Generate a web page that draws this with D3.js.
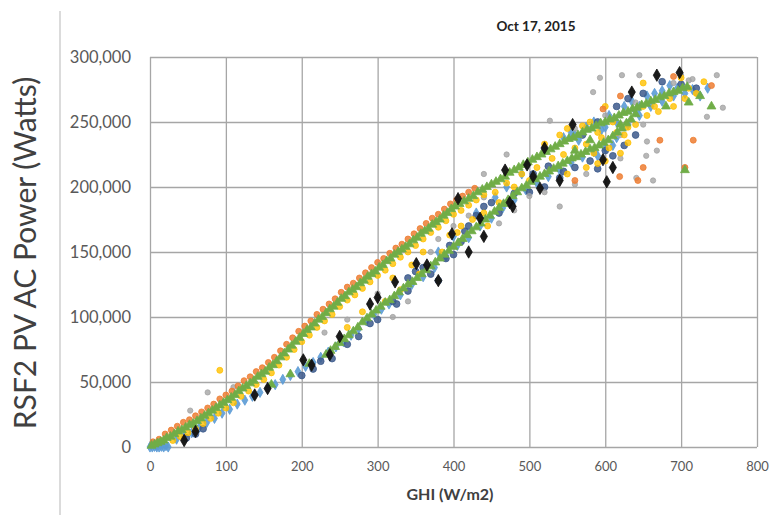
<!DOCTYPE html>
<html>
<head>
<meta charset="utf-8">
<script src="https://cdn.jsdelivr.net/npm/d3@7"></script>
<style>
  body { margin: 0; background: #fff; }
  svg { display: block; }
  text { font-family: Lato, "Open Sans", sans-serif; }
</style>
</head>
<body>
<div id="chart"></div>
<script>
// axis ticks
const xTicks = [0, 100, 200, 300, 400, 500, 600, 700, 800];
const yTicks = [0, 50000, 100000, 150000, 200000, 250000, 300000];
const title = "Oct 17, 2015";

// points are [GHI (W/m2), AC power (kW)]
const bluePts = [[0,0],[3,0],[6,0.5],[9,0],[12,0],[15,0.5],[18,0],[21,1],[24,0],[2,2],[8,1.5],
  [35,6],[45,8],[55,11],[59,12],[65,15],[75,19],[85,22],[95,26],[105,29],[115,33],[125,36],[135,39],
  [145,42],[155,45],[165,48],[175,52],[185,55],[195,58],[205,62],[215,65],[225,69],[235,73],[245,77],
  [255,81],[265,86],[275,91],[285,97],[295,102],[305,106],[315,110],[330,117],[345,125],[360,131],
  [375,138],[390,147],[405,155],[420,161],[435,170],[450,176],[465,184],[480,190],[495,198],[510,203],
  [525,208],[540,213],[555,219],[570,223],[585,227],[600,230],[615,238],[630,248],[645,255],[660,262],
  [675,266],[690,270],[705,272],[715,275],[725,270],[735,276],[520,229],[560,240],[600,246],[640,258],
  [545,238],[555,242],[565,236],[575,246],[585,250],[595,244],[605,255],[615,250],[625,262],[635,266],
  [645,262],[655,270],[665,272],[675,274],[685,278],[695,276],[590,224],[610,232],[470,200],[490,210],
  [430,180],[455,192],[380,150],[400,162]];

const navyPts = [[48,7],[60,10],[70,14],[200,55],[215,60],[225,66],[240,68],[260,79],[275,85],[290,95],
  [300,98],[320,112],[340,120],[350,135],[360,138],[370,133],[380,128],[390,145],[400,148],[410,158],
  [420,170],[430,178],[440,185],[460,180],[480,195],[500,196],[520,200],[540,207],[560,215],[590,214],
  [610,224],[625,232],[640,240],[570,240],[590,250],[615,262],[630,268],[650,272],[675,281],[700,279],
  [720,276],[600,228],[580,220],[545,212],[525,216],[505,210],[450,188],[415,166],[395,155],[340,130],
  [325,110]];

const grayPts = [[76,42],[53,28],[110,46],[230,88],[260,98],[300,118],[320,100],[340,112],
  [370,150],[380,160],[400,170],[420,178],[440,192],[460,172],[480,182],[500,193],[520,196],[540,185],
  [560,202],[575,210],[584,273],[593,284],[622,286],[645,286],[700,286],[715,283],[747,286],[755,261],
  [734,254],[720,272],[620,222],[655,235],[668,228],[654,224],[705,215],[663,205],[641,207],[527,251],
  [470,225],[440,210],[560,245],[600,255],[640,265],[690,280],[710,282],[620,240],[650,248]];

const goldPts = [[30,5],[40,8],[50,11],[60,14],[70,18],[80,22],[90,26],[100,30],[110,34],[120,39],
  [130,43],[140,48],[150,52],[160,57],[170,63],[180,69],[190,75],[200,81],[210,86],[220,92],[230,97],
  [240,102],[250,108],[260,113],[270,117],[280,122],[290,127],[300,132],[310,136],[320,141],[330,146],
  [340,150],[350,155],[360,160],[370,165],[380,169],[390,174],[400,179],[410,182],[420,186],[430,190],
  [440,194],[455,196],[470,203],[490,210],[510,215],[530,222],[545,225],[560,230],[575,233],[585,226],
  [595,238],[605,230],[615,242],[625,240],[640,248],[655,255],[670,258],[690,262],[705,268],[720,272],
  [730,281],[700,284],[650,280],[600,262],[580,250],[540,240],[520,233],[500,205],[480,200],[460,188],
  [440,180],[410,170],[395,163],[360,150],[345,140],[320,130],[260,92],[280,104],[310,112],[330,121],
  [355,133],[385,150],[405,165],[425,175],[445,170],[92,59],[550,245],[570,247],[590,242],[610,250],
  [630,246],[650,262],[665,262],[685,268],[710,276],[600,220],[590,218],[620,226],[630,234],[575,215],
  [550,210]];

const orangePts = [[4,4],[12,6],[20,10],[28,13],[36,16],[44,19],[52,21],[60,24],[68,27],[76,30],
  [84,33],[92,37],[100,40],[108,43],[116,47],[124,51],[132,54],[140,58],[148,61],[156,65],[164,69],
  [172,74],[180,79],[188,84],[196,89],[204,93],[212,97],[220,102],[228,106],[236,110],[244,114],
  [252,119],[260,123],[268,126],[276,130],[284,134],[292,138],[300,142],[308,145],[316,149],[324,153],
  [332,156],[340,160],[348,164],[356,168],[364,172],[372,176],[380,179],[388,183],[396,187],[404,190],
  [412,193],[420,196],[428,199],[672,236],[716,236],[705,215],[650,215],[643,205],[619,208],[560,205],
  [597,260],[690,285],[740,278],[620,270]];

const greenPts = [[2,1],[6,2],[10,3],[14,4],[18,5],[22,7],[27,8],[32,10],[37,12],[42,13],[47,15],
  [52,17],[57,18],[62,20],[67,22],[72,24],[77,26],[82,28],[87,30],[92,32],[97,34],[102,36],[107,38],
  [112,40],[117,43],[122,45],[127,47],[132,49],[137,51],[142,54],[147,56],[152,58],[157,61],[162,63],
  [167,66],[172,69],[177,72],[182,75],[187,78],[192,81],[197,84],[202,87],[207,90],[212,92],[217,95],
  [222,98],[227,100],[232,103],[237,106],[242,108],[247,111],[252,114],[257,116],[262,119],[267,121],
  [272,123],[277,126],[282,128],[287,131],[292,133],[297,135],[302,138],[307,140],[312,143],[317,145],
  [322,148],[327,150],[332,152],[337,154],[342,156],[347,159],[352,161],[357,164],[362,166],[367,168],
  [372,171],[377,173],[382,175],[387,178],[392,180],[397,183],[402,185],[408,187],[414,189],[420,191],
  [426,193],[432,196],[438,198],[444,200],[450,202],[456,204],[462,206],[468,208],[474,211],[480,213],
  [486,215],[492,217],[498,219],[504,221],[510,223],[516,225],[522,227],[528,229],[534,231],[540,233],
  [546,235],[552,237],[558,238],[564,240],[570,242],[576,244],[582,245],[588,247],[594,249],[600,250],
  [606,252],[612,253],[618,255],[624,257],[630,258],[636,260],[642,261],[648,263],[654,264],[660,266],
  [666,267],[672,269],[678,270],[684,272],[690,273],[696,274],[702,276],[708,277],
  // lower branch
  [232,71],[238,74],[244,77],[250,80],[256,83],[262,86],[268,89],[274,92],[280,96],[286,99],[292,102],
  [298,105],[304,108],[310,111],[316,113],[322,116],[328,119],[334,122],[340,125],[346,127],[352,130],
  [358,133],[364,136],[370,139],[376,142],[382,145],[388,148],[394,151],[400,154],[406,157],[412,160],
  [418,163],[424,166],[430,169],[436,172],[442,175],[448,178],[454,181],[460,184],[466,187],[472,190],
  [478,193],[484,196],[490,199],[496,201],[502,204],[508,206],[514,208],[520,210],[526,212],[532,214],
  [538,216],[544,218],[550,220],[556,222],[562,223],[568,225],[574,227],[580,229],[586,230],[592,232],
  [598,234],[604,236],[610,239],[616,242],[622,245],[628,249],[634,252],[640,256],
  [160,48],[185,56],[210,64],[620,248],[680,262],[710,265],[725,270],[740,262],[705,213],[560,228],[580,236]];

const blackPts = [[45,5],[60,12],[138,40],[155,45],[202,67],[213,63],[237,71],[250,85],[290,110],
  [300,115],[323,127],[351,141],[365,140],[380,128],[398,164],[406,191],[420,150],[435,176],[440,162],
  [468,213],[474,188],[478,185],[497,217],[505,208],[514,199],[520,230],[540,205],[557,248],[597,221],
  [602,204],[610,215],[635,273],[668,286],[698,288]];

const series = [
  { pts: bluePts,   color: "#5B9BD5", shape: d3.symbolDiamond,  size: 30, op: 0.9 },
  { pts: navyPts,   color: "#3C5A8C", shape: d3.symbolCircle,   size: 36, op: 0.85 },
  { pts: grayPts,   color: "#A5A5A5", shape: d3.symbolCircle,   size: 22, op: 0.8 },
  { pts: goldPts,   color: "#FFC000", shape: d3.symbolCircle,   size: 28, op: 0.8 },
  { pts: orangePts, color: "#ED7D31", shape: d3.symbolCircle,   size: 28, op: 0.85 },
  { pts: greenPts,  color: "#70AD47", shape: d3.symbolTriangle, size: 34, op: 1 },
  { pts: blackPts,  color: "#111111", shape: d3.symbolDiamond,  size: 44, op: 0.95 }
];

const W = 774, H = 515;
const x = d3.scaleLinear().domain([0, 800]).range([150, 757]);
const y = d3.scaleLinear().domain([0, 300000]).range([447, 57]);

const svg = d3.select("#chart").append("svg")
  .attr("width", W).attr("height", H);

// soft look of the scanned original
svg.append("defs").append("filter")
  .attr("id", "soft")
  .append("feGaussianBlur").attr("stdDeviation", 0.7);

// faint line at left of the slide
svg.append("line")
  .attr("x1", 60).attr("x2", 60).attr("y1", 11).attr("y2", H)
  .attr("stroke", "#cfcfcf").attr("stroke-width", 1.5);

// grid
const gx = svg.append("g")
  .attr("transform", `translate(0,${y(0)})`)
  .call(d3.axisBottom(x).tickValues(xTicks).tickSize(-(y(0) - y(300000))).tickPadding(15));
gx.select(".domain").remove();
gx.selectAll("line").attr("stroke", "#a6a6a6").attr("stroke-width", 1.3);
gx.selectAll("text").attr("fill", "#595959").style("font-size", "13px");

const gy = svg.append("g")
  .attr("transform", `translate(${x(0)},0)`)
  .call(d3.axisLeft(y).tickValues(yTicks).tickSize(-(x(800) - x(0))).tickPadding(19)
    .tickFormat(d3.format(",")));
gy.select(".domain").remove();
gy.selectAll("line").attr("stroke", "#a6a6a6").attr("stroke-width", 1.3);
gy.selectAll("text").attr("fill", "#595959").style("font-size", "16.5px");

// points
const plot = svg.append("g").attr("filter", "url(#soft)");
series.forEach(s => {
  plot.append("g").selectAll("path")
    .data(s.pts)
    .enter()
    .append("path")
    .attr("transform", d => `translate(${x(d[0])},${y(d[1] * 1000)})`)
    .attr("d", d3.symbol().type(s.shape).size(s.size))
    .attr("fill", s.color)
    .attr("fill-opacity", s.op)
    .attr("stroke", s.color)
    .attr("stroke-width", 0.8);
});

// titles
svg.append("text")
  .attr("x", 536).attr("y", 31)
  .attr("text-anchor", "middle")
  .style("font-size", "13.5px").style("font-weight", "bold")
  .attr("fill", "#222")
  .text(title);

svg.append("text")
  .attr("x", 450).attr("y", 500)
  .attr("text-anchor", "middle")
  .style("font-size", "16px").style("font-weight", "bold")
  .attr("fill", "#404040")
  .text("GHI (W/m2)");

const yLab = svg.append("text")
  .attr("transform", "translate(36,253) rotate(-90)")
  .attr("text-anchor", "middle")
  .style("font-size", "28px")
  .attr("fill", "#404040")
  .text("RSF2 PV AC Power (Watts)");
// fit the label to the length it has in the original (about 367px)
const len = yLab.node().getComputedTextLength();
if (len > 0) yLab.style("font-size", Math.min(30, 28 * 367 / len) + "px");
</script>
</body>
</html>
